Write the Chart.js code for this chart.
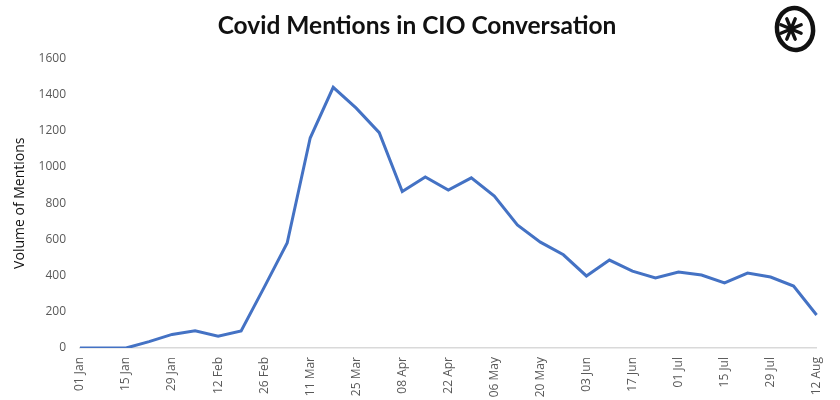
<!DOCTYPE html>
<html>
<head>
<meta charset="utf-8">
<script src="https://cdn.jsdelivr.net/npm/chart.js@4"></script>
<style>
html,body{margin:0;padding:0;background:#fff;}
#wrap{width:840px;height:400px;position:relative;}
</style>
</head>
<body>
<div id="wrap"><canvas id="c" width="840" height="400"></canvas></div>
<script>
const weeks = ["01 Jan","08 Jan","15 Jan","22 Jan","29 Jan","05 Feb","12 Feb","19 Feb","26 Feb","04 Mar","11 Mar","18 Mar","25 Mar","01 Apr","08 Apr","15 Apr","22 Apr","29 Apr","06 May","13 May","20 May","27 May","03 Jun","10 Jun","17 Jun","24 Jun","01 Jul","08 Jul","15 Jul","22 Jul","29 Jul","05 Aug","12 Aug"];
const mentions = [0,0,0,35,75,95,65,94,335,580,1160,1440,1325,1190,865,945,873,940,840,680,585,515,398,486,425,387,420,403,360,414,392,342,182];
const yTicks = [0,200,400,600,800,1000,1200,1400,1600];

const logoPlugin = {
  id:'logo',
  afterDraw(chart){
    const ctx = chart.ctx;
    ctx.save();
    ctx.strokeStyle = '#111';
    ctx.lineCap='round';
    ctx.lineWidth = 4.5;
    ctx.beginPath();
    ctx.ellipse(795, 29, 18, 21, -0.15, 0, Math.PI*2);
    ctx.stroke();
    ctx.lineWidth = 3.4;
    const cx=791, cy=29, r=11;
    for(let k=0;k<4;k++){
      const a = k*Math.PI/4 + Math.PI/8;
      ctx.beginPath();
      ctx.moveTo(cx+Math.cos(a)*r, cy+Math.sin(a)*r);
      ctx.lineTo(cx-Math.cos(a)*r, cy-Math.sin(a)*r);
      ctx.stroke();
    }
    ctx.restore();
  }
};

new Chart(document.getElementById('c'), {
  type:'line',
  data:{
    labels: weeks,
    datasets:[{
      data: mentions,
      borderColor:'#4472C4',
      borderWidth:3,
      pointRadius:0,
      tension:0,
      fill:false
    }]
  },
  options:{
    responsive:false,
    animation:false,
    layout:{padding:{left:10,right:16,top:8,bottom:0}},
    plugins:{
      legend:{display:false},
      tooltip:{enabled:false},
      title:{
        display:true,
        text:'Covid Mentions in CIO Conversation',
        color:'#111',
        font:{family:'Lato',size:24.5,weight:'bold'},
        padding:{top:3,bottom:18}
      }
    },
    scales:{
      x:{
        offset:false,
        afterFit:(axis)=>{axis.height = 52;},
        grid:{display:false, drawTicks:false},
        border:{display:true,color:'#d9d9d9',width:1.5},
        ticks:{
          autoSkip:false,
          maxRotation:90,minRotation:90,
          padding:9,
          color:'#595959',
          font:{family:'Open Sans',size:12},
          callback:function(v,i){return i%2===0 ? weeks[i] : '';}
        }
      },
      y:{
        min:0,max:1600,
        afterBuildTicks:(axis)=>{axis.ticks = yTicks.map(v=>({value:v}));},
        afterFit:(axis)=>{axis.width = 70;},
        grid:{display:false, drawTicks:false},
        border:{display:false},
        ticks:{
          padding:14,
          color:'#595959',
          font:{family:'Open Sans',size:12},
          callback:function(v){return String(v);}
        },
        title:{
          display:true,
          text:'Volume of Mentions',
          color:'#111',
          font:{family:'Open Sans',size:14},
          padding:{top:2,bottom:10}
        }
      }
    }
  },
  plugins:[logoPlugin]
});
</script>
</body>
</html>
